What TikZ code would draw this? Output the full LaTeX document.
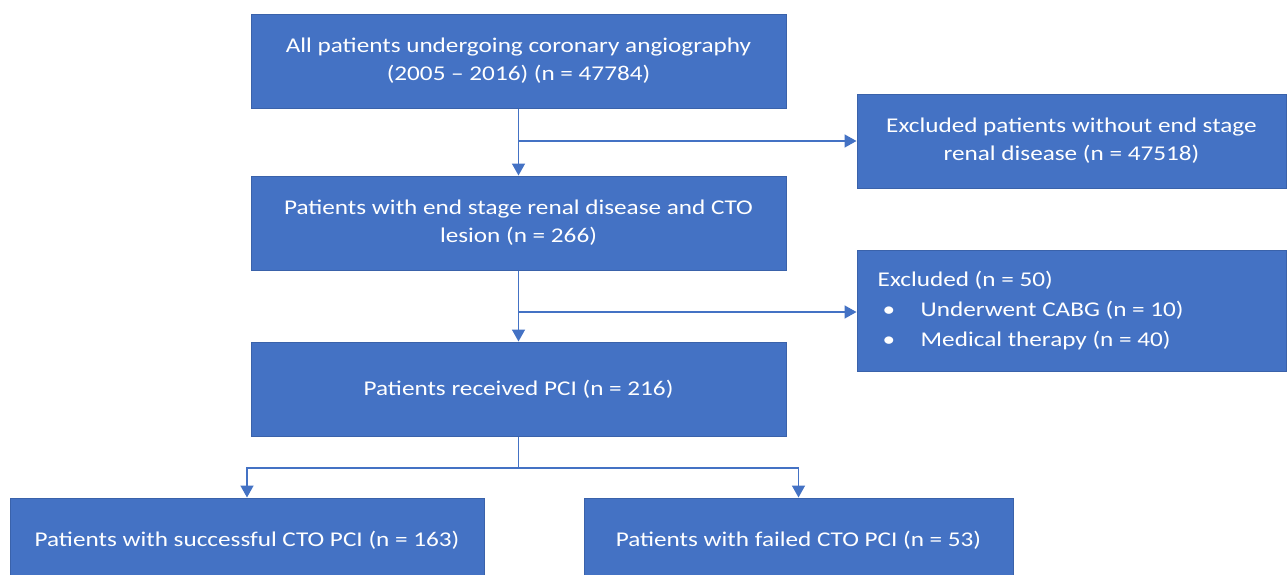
\documentclass[tikz,border=0pt]{standalone}
\usepackage{fontspec}
\setmainfont[FakeStretch=1.2]{Carlito}
\usetikzlibrary{arrows.meta}
\definecolor{boxblue}{HTML}{4472C4}
\definecolor{edgeblue}{HTML}{3A62AA}
\begin{document}
\begin{tikzpicture}[x=1pt,y=-1pt,
  box/.style={draw=edgeblue,line width=1pt,fill=boxblue,text=white,font=\fontsize{21}{28}\selectfont,align=center,inner sep=0pt},
  boxtext/.style={text=white,font=\fontsize{21}{30}\selectfont,align=left,inner sep=0pt},
  conn/.style={draw=boxblue,line width=1.6pt},
  arr/.style={conn,-{Triangle[width=13pt,length=12pt]}}]
\clip (0,0) rectangle (1288,574);
\fill[white] (0,0) rectangle (1288,574);
\node[box,minimum width=535pt,minimum height=94pt] (b1) at (518.5,61) {All patients undergoing coronary angiography\\(2005 -- 2016) (n = 47784)};
\node[box,minimum width=429pt,minimum height=94pt] (b2) at (1071.5,141) {Excluded patients without end stage\\renal disease (n = 47518)};
\node[box,minimum width=535pt,minimum height=94pt] (b3) at (518.5,223) {Patients with end stage renal disease and CTO\\lesion (n = 266)};
\node[box,minimum width=429pt,minimum height=121pt] (b4) at (1071.5,310.5) {};
\node[boxtext,anchor=west] (b4t) at ([xshift=21pt]b4.west) {Excluded (n = 50)\\\hspace*{5pt}\makebox[38pt][l]{\textbullet}Underwent CABG (n = 10)\\\hspace*{5pt}\makebox[38pt][l]{\textbullet}Medical therapy (n = 40)};
\node[box,minimum width=535pt,minimum height=94pt] (b5) at (518.5,389) {Patients received PCI (n = 216)};
\node[box,minimum width=474pt,minimum height=84pt] (b6) at (247,540) {Patients with successful CTO PCI (n = 163)};
\node[box,minimum width=429pt,minimum height=84pt] (b7) at (798.5,540) {Patients with failed CTO PCI (n = 53)};
\coordinate (j1) at (518.5,141);
\coordinate (j2) at (518.5,312);
\coordinate (j3) at (518.5,468);
\draw[arr] (b1.south) -- (b3.north);
\draw[arr] (j1) -- (j1 -| b2.west);
\draw[arr] (b3.south) -- (b5.north);
\draw[arr] (j2) -- (j2 -| b4.west);
\draw[conn] (b5.south) -- (j3);
\draw[arr] (j3) -| (b6.north);
\draw[arr] (j3) -| (b7.north);
\end{tikzpicture}
\end{document}
